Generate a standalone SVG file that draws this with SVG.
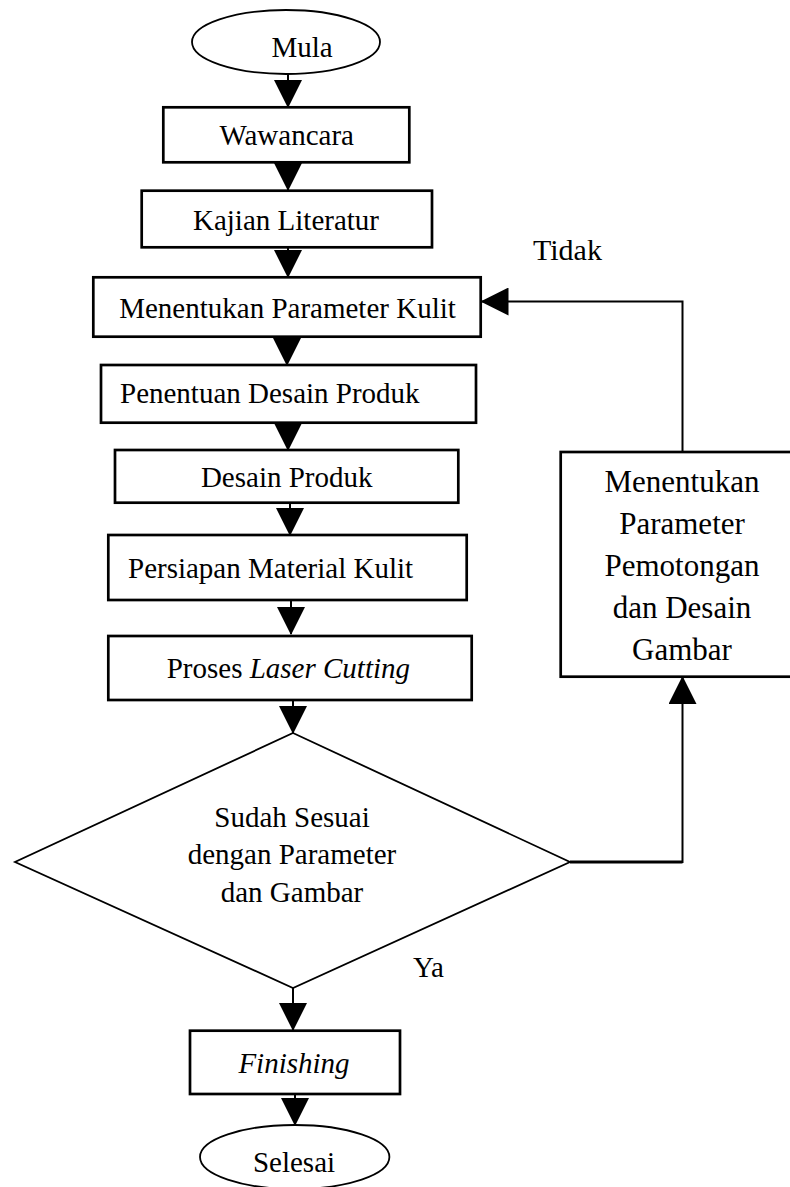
<svg xmlns="http://www.w3.org/2000/svg" width="790" height="1187" viewBox="0 0 790 1187">
<style>
text{font-family:"Liberation Serif","Times New Roman",serif;font-size:29px;fill:#000}
.c{text-anchor:middle}
.box{fill:#fff;stroke:#000;stroke-width:2.7}
.term{fill:#fff;stroke:#000;stroke-width:1.8}
.dec{fill:#fff;stroke:#000;stroke-width:1.8}
.ln{fill:none;stroke:#000;stroke-width:2}
.it{font-style:italic}
</style>
<defs>
<marker id="ah" markerUnits="userSpaceOnUse" markerWidth="28" markerHeight="28" refX="27" refY="14" orient="auto" viewBox="0 0 28 28">
<path d="M0,0 L28,14 L0,28 z" fill="#000"/>
</marker>
</defs>
<rect width="790" height="1187" fill="#fff"/>
<g id="connectors">
<line class="ln" x1="288" y1="74" x2="288" y2="107" marker-end="url(#ah)"/>
<line class="ln" x1="288" y1="163" x2="288" y2="190" marker-end="url(#ah)"/>
<line class="ln" x1="288" y1="248" x2="288" y2="277" marker-end="url(#ah)"/>
<line class="ln" x1="287" y1="337" x2="287" y2="365" marker-end="url(#ah)"/>
<line class="ln" x1="288" y1="423" x2="288" y2="450" marker-end="url(#ah)"/>
<line class="ln" x1="290" y1="503" x2="290" y2="535" marker-end="url(#ah)"/>
<line class="ln" x1="291" y1="600" x2="291" y2="634" marker-end="url(#ah)"/>
<line class="ln" x1="293" y1="700" x2="293" y2="733" marker-end="url(#ah)"/>
<line class="ln" x1="293" y1="988" x2="293" y2="1030" marker-end="url(#ah)"/>
<line class="ln" x1="295" y1="1094" x2="295" y2="1125" marker-end="url(#ah)"/>
<line class="ln" x1="570" y1="862" x2="682.5" y2="862" style="stroke-width:3"/>
<line class="ln" x1="682.5" y1="863" x2="682.5" y2="677" marker-end="url(#ah)"/>
<polyline class="ln" points="682.5,452 682.5,301.5 481.5,301.5" marker-end="url(#ah)"/>
</g>
<g id="mula">
<ellipse class="term" cx="286" cy="42" rx="94" ry="32"/>
<text class="c" x="302" y="57">Mula</text>
</g>
<g id="wawancara">
<rect class="box" x="163.3" y="107.3" width="246" height="55"/>
<text class="c" x="286.7" y="145">Wawancara</text>
</g>
<g id="kajian">
<rect class="box" x="141.7" y="190.7" width="290.3" height="56.6"/>
<text class="c" x="286" y="230">Kajian Literatur</text>
</g>
<g id="parameter-kulit">
<rect class="box" x="93.3" y="277.3" width="387.4" height="59.4"/>
<text class="c" x="287.5" y="318">Menentukan Parameter Kulit</text>
</g>
<g id="penentuan">
<rect class="box" x="101" y="365" width="375" height="57.7"/>
<text x="120" y="403">Penentuan Desain Produk</text>
</g>
<g id="desain">
<rect class="box" x="115" y="450" width="343.3" height="52.7"/>
<text class="c" x="286.7" y="487">Desain Produk</text>
</g>
<g id="persiapan">
<rect class="box" x="108.3" y="535" width="358.4" height="65"/>
<text x="128" y="578">Persiapan Material Kulit</text>
</g>
<g id="proses">
<rect class="box" x="108.3" y="636" width="363.4" height="64"/>
<text x="166.7" y="678">Proses <tspan class="it">Laser Cutting</tspan></text>
</g>
<g id="keputusan">
<polygon class="dec" points="293,733 570,862 293,988 15,862"/>
<text class="c" x="292" y="827">Sudah Sesuai</text>
<text class="c" x="292" y="864">dengan Parameter</text>
<text class="c" x="292" y="902">dan Gambar</text>
</g>
<g id="pemotongan">
<rect class="box" x="560.7" y="452" width="240" height="224.7"/>
<text class="c" x="682" y="492" style="font-size:31px">Menentukan</text>
<text class="c" x="682" y="534" style="font-size:31px">Parameter</text>
<text class="c" x="682" y="576" style="font-size:31px">Pemotongan</text>
<text class="c" x="682" y="618" style="font-size:31px">dan Desain</text>
<text class="c" x="682" y="660" style="font-size:31px">Gambar</text>
</g>
<g id="finishing">
<rect class="box" x="190" y="1030.7" width="210" height="63.3"/>
<text class="c it" x="294" y="1073">Finishing</text>
</g>
<g id="selesai">
<ellipse class="term" cx="294.7" cy="1157" rx="94.7" ry="32"/>
<text class="c" x="294" y="1172">Selesai</text>
</g>
<g id="labels">
<text x="533" y="260" style="font-size:30px">Tidak</text>
<text x="413" y="977">Ya</text>
</g>
</svg>
